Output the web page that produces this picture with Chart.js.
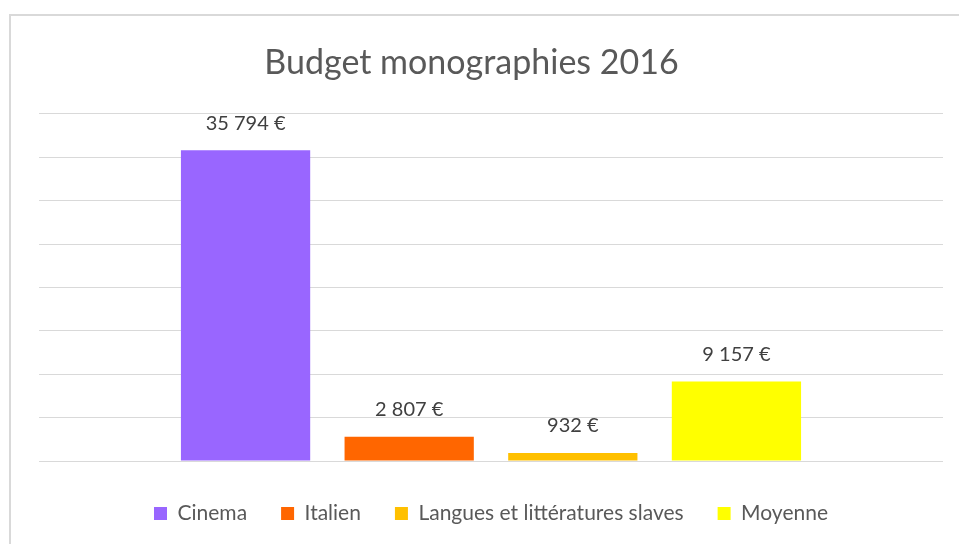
<!DOCTYPE html>
<html>
<head>
<meta charset="utf-8">
<script src="https://cdn.jsdelivr.net/npm/chart.js@4/dist/chart.umd.min.js"></script>
<style>
  html, body { margin: 0; padding: 0; background: #fff; }
  #wrap { position: relative; width: 959px; height: 544px; overflow: hidden; }
  #frame { position: absolute; left: 9px; top: 14px; width: 960px; height: 540px;
           border-left: 2px solid #d9d9d9; border-top: 2px solid #d9d9d9; }
  #budgetChart { position: absolute; left: 0; top: 0; }
</style>
</head>
<body>
<div id="wrap">
  <div id="frame"></div>
  <canvas id="budgetChart" width="959" height="544"></canvas>
</div>
<script>
// Chart data
const categories = ['Cinema', 'Italien', 'Langues et littératures slaves', 'Moyenne'];
const budgetValues = [35794, 2807, 932, 9157];
const barColors = ['#9966FF', '#FF6600', '#FFC000', '#FFFF00'];
const yTicks = [0, 5000, 10000, 15000, 20000, 25000, 30000, 35000, 40000];

const fontFamily = 'Lato, "Open Sans", sans-serif';

// Format like "35 794 €"
const formatEuro = (v) => String(v).replace(/\B(?=(\d{3})+(?!\d))/g, ' ') + ' €';

// Small plugin that writes the value above each bar
const valueLabels = {
  id: 'valueLabels',
  afterDatasetsDraw(chart) {
    const ctx = chart.ctx;
    ctx.save();
    ctx.font = '20px ' + fontFamily;
    ctx.fillStyle = '#404040';
    ctx.textAlign = 'center';
    ctx.textBaseline = 'middle';
    chart.data.datasets.forEach((ds, i) => {
      const meta = chart.getDatasetMeta(i);
      meta.data.forEach((bar, j) => {
        ctx.fillText(formatEuro(ds.data[j]), bar.x, bar.y - 27);
      });
    });
    ctx.restore();
  }
};

const ctx = document.getElementById('budgetChart').getContext('2d');

new Chart(ctx, {
  type: 'bar',
  data: {
    labels: [''],
    datasets: categories.map((name, i) => ({
      label: name,
      data: [budgetValues[i]],
      backgroundColor: barColors[i],
      borderWidth: 0,
      categoryPercentage: 0.724,
      barPercentage: 0.79
    }))
  },
  options: {
    responsive: false,
    animation: false,
    layout: { padding: { left: 0, right: 16, top: 0, bottom: 10 } },
    scales: {
      x: {
        display: true,
        grid: { display: false },
        border: { display: false },
        ticks: { display: false },
        afterFit: (scale) => { scale.height = 8; }
      },
      y: {
        min: 0,
        max: 40000,
        afterBuildTicks: (scale) => { scale.ticks = yTicks.map((v) => ({ value: v })); },
        grid: { color: '#d9d9d9', lineWidth: 1, drawTicks: false },
        border: { display: false },
        ticks: { display: false },
        afterFit: (scale) => { scale.width = 39; }
      }
    },
    plugins: {
      title: {
        display: true,
        text: 'Budget monographies 2016',
        color: '#595959',
        font: { family: fontFamily, size: 34, weight: 'normal' },
        padding: { top: 43, bottom: 30 }
      },
      legend: {
        position: 'bottom',
        fullSize: false,
        labels: {
          color: '#595959',
          font: { family: fontFamily, size: 21 },
          boxWidth: 13,
          boxHeight: 13,
          padding: 34
        }
      },
      tooltip: { enabled: false }
    }
  },
  plugins: [valueLabels]
});
</script>
</body>
</html>
